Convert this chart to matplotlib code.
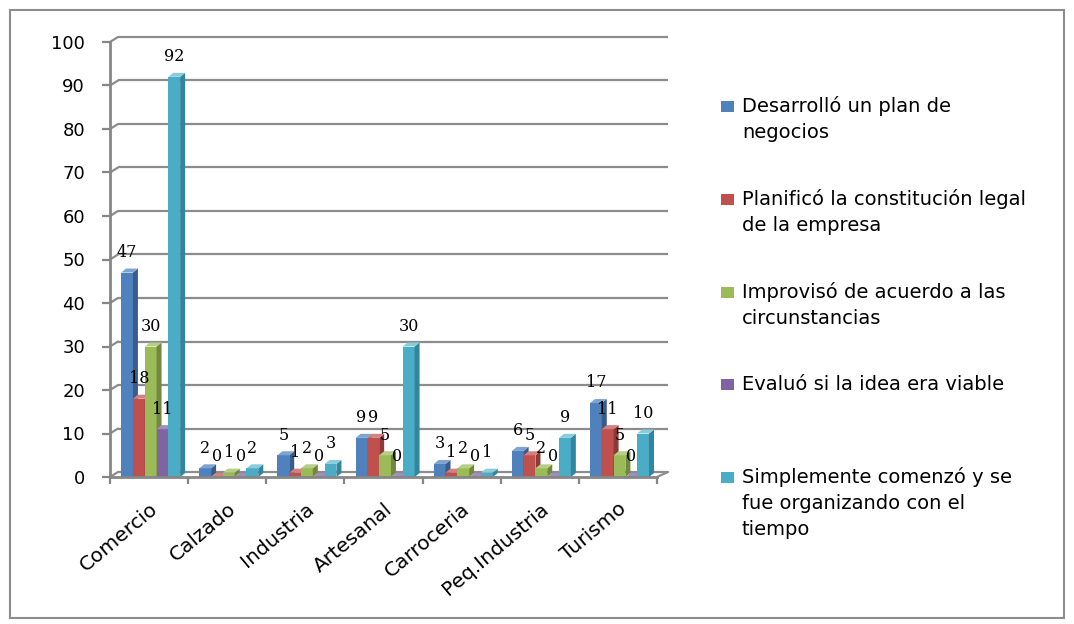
import matplotlib
matplotlib.use("Agg")
import matplotlib.pyplot as plt
from matplotlib import transforms
from matplotlib.patches import Polygon, Rectangle, ConnectionPatch

# ---- data ---------------------------------------------------------------
categories = ["Comercio", "Calzado", "Industria", "Artesanal",
              "Carroceria", "Peq.Industria", "Turismo"]
series_names = [
    "Desarrolló un plan de\nnegocios",
    "Planificó la constitución legal\nde la empresa",
    "Improvisó de acuerdo a las\ncircunstancias",
    "Evaluó si la idea era viable",
    "Simplemente comenzó y se\nfue organizando con el\ntiempo",
]
plan_negocios = [47, 2, 5, 9, 3, 6, 17]
constitucion_legal = [18, 0, 1, 9, 1, 5, 11]
improviso = [30, 1, 2, 5, 2, 2, 5]
evaluo_idea = [11, 0, 0, 0, 0, 0, 0]
comenzo_organizando = [92, 2, 3, 30, 1, 9, 10]
y_ticks = list(range(0, 101, 10))

series = [plan_negocios, constitucion_legal, improviso, evaluo_idea,
          comenzo_organizando]

front_colors = ["#4F81BD", "#C0504D", "#9BBB59", "#8064A2", "#4BACC6"]
side_colors = ["#385D8A", "#8C3A38", "#71893F", "#5C4776", "#31859C"]
top_colors = ["#7FA3D1", "#D4807E", "#B7CE87", "#A08CBE", "#8ACCDC"]
grid_color = "#8C8C8C"

# ---- figure / axes --------------------------------------------------------
W, H = 1074, 624
fig = plt.figure(figsize=(W / 100, H / 100), dpi=100)


def fx(px):
    return px / W


def fy(py):
    return 1 - py / H


ax = fig.add_axes([fx(110), fy(477), fx(657) - fx(110), fy(42) - fy(477)])
ax.set_xlim(-0.5, len(categories) - 0.5)
ax.set_ylim(0, 100)
ax.patch.set_visible(False)

p0 = ax.transData.transform((0, 0))
p1 = ax.transData.transform((1, 1))
ux, uy = p1[0] - p0[0], p1[1] - p0[1]

# back wall offset (pseudo 3-D)
wall = transforms.offset_copy(ax.transData, fig=fig, x=8, y=5, units="dots")
xmin, xmax = ax.get_xlim()

for v in y_ticks:
    ax.plot([xmin, xmax + 3 / ux], [v, v], transform=wall, color=grid_color,
            lw=1.6, clip_on=False, zorder=1, solid_capstyle="butt")
    ax.add_artist(ConnectionPatch(xyA=(xmin, v), coordsA=ax.transData,
                                  xyB=(xmin, v), coordsB=wall,
                                  color=grid_color, lw=1.6, zorder=1))
ax.add_artist(ConnectionPatch(xyA=(xmax, 0), coordsA=ax.transData,
                              xyB=(xmax + 3 / ux, 0), coordsB=wall,
                              color=grid_color, lw=1.6, zorder=1))

# ---- 3-D looking bars ------------------------------------------------------
w = 0.151
dx, dy = 5 / ux, 4 / uy
for i, vals in enumerate(series):
    xs = [j + (i - 2) * w + 0.02 for j in range(len(categories))]
    z = 3 + i * 0.3
    ax.bar(xs, vals, width=w, color=front_colors[i], zorder=z, lw=0)
    for x, v in zip(xs, vals):
        l, r = x - w / 2, x + w / 2
        side = Polygon([(r, 0), (r, v), (r + dx, v + dy), (r + dx, dy)],
                       closed=True, facecolor=side_colors[i], lw=0,
                       zorder=z + 0.1)
        top = Polygon([(l, v), (r, v), (r + dx, v + dy), (l + dx, v + dy)],
                      closed=True, facecolor=top_colors[i], lw=0,
                      zorder=z + 0.2)
        ax.add_patch(side)
        ax.add_patch(top)
        ax.annotate(str(v), (x, v), xytext=(0, 14.5),
                    textcoords="offset points", ha="center", va="center",
                    fontsize=11.5, family="DejaVu Serif", zorder=10)

# ---- axes styling ----------------------------------------------------------
for s in ("top", "right"):
    ax.spines[s].set_visible(False)
for s in ("left", "bottom"):
    ax.spines[s].set_color("#868686")
    ax.spines[s].set_linewidth(2)
    ax.spines[s].set_zorder(6)

ax.set_yticks(y_ticks)
ax.tick_params(axis="y", length=6, width=1.6, color="#868686", pad=12,
               labelsize=13)
ax.set_xticks(range(len(categories)))
ax.set_xticklabels(categories, rotation=40, ha="right", va="top",
                   rotation_mode="anchor", fontsize=14.5)
shift = transforms.ScaledTranslation(-11 / 72, 0, fig.dpi_scale_trans)
for lab in ax.get_xticklabels():
    lab.set_transform(lab.get_transform() + shift)
ax.set_xticks([j - 0.5 for j in range(len(categories) + 1)], minor=True)
ax.tick_params(axis="x", which="major", length=0, pad=16)
ax.tick_params(axis="x", which="minor", length=5, width=1.6,
               color="#868686", direction="out")

# ---- legend -----------------------------------------------------------------
first_baseline = 112
step = 92.75
line_gap = 26
for i, name in enumerate(series_names):
    base = first_baseline + i * step
    fig.add_artist(Rectangle((fx(721), fy(base)), fx(734) - fx(721),
                             fy(base - 11) - fy(base),
                             transform=fig.transFigure,
                             facecolor=front_colors[i], lw=0))
    for k, line in enumerate(name.split("\n")):
        fig.text(fx(742), fy(base + k * line_gap), line, ha="left",
                 va="baseline", fontsize=14)

# outer frame
fig.add_artist(Rectangle((fx(10), fy(618)), fx(1064) - fx(10),
                         fy(10) - fy(618), transform=fig.transFigure,
                         fill=False, edgecolor="#8C8C8C", lw=1.5))

fig.savefig("out.png", dpi=100)
